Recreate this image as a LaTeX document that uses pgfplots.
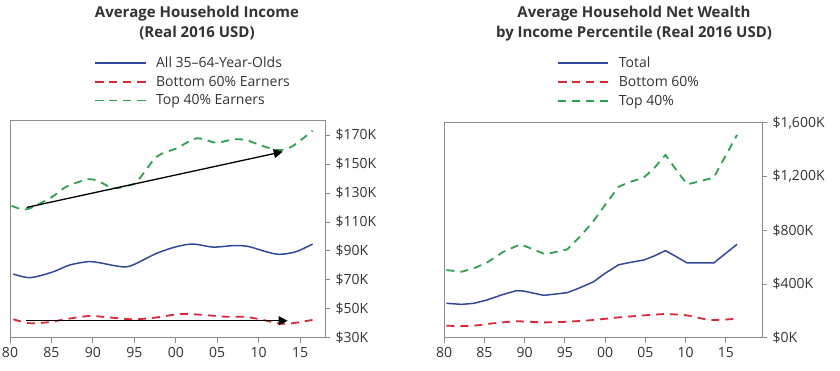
\documentclass[border=0pt]{standalone}
\usepackage{fontspec}
\setmainfont{Open Sans}
\usepackage{pgfplots}
\pgfplotsset{compat=1.18}
\usetikzlibrary{arrows.meta}
\definecolor{cblue}{HTML}{34489A}
\definecolor{cred}{HTML}{D8283A}
\definecolor{cgreen}{HTML}{2EA04F}
\definecolor{cgray}{HTML}{8C8C8C}
\definecolor{ctext}{HTML}{333333}
\pgfplotsset{
  common/.style={
    scale only axis, anchor=south west,
    axis line style={cgray, line width=0.8pt},
    tick style={cgray, line width=0.8pt},
    major tick length=5pt, tick align=outside,
    xtick pos=bottom, ytick pos=right, yticklabel pos=right,
    xtick={1980,1985,...,2015},
    xticklabels={80,85,90,95,00,05,10,15},
    ticklabel style={font=\fontsize{14}{17}\selectfont, text=ctext},
    xticklabel style={yshift=-1pt},
    yticklabel style={xshift=2pt},
    legend cell align=left,
    legend style={draw=none, fill=none, inner sep=0pt, row sep=3pt, column sep=8pt,
       font=\fontsize{14}{16}\selectfont, text=ctext,
       anchor=north west},
    legend image code/.code={\draw[##1] plot coordinates {(0pt,0pt) (50pt,0pt)};},
    clip=false,
  },
  sblue/.style={cblue, line width=1.5pt},
  sred/.style={cred, line width=1.8pt, dash pattern=on 8pt off 6pt},
  sgreen/.style={cgreen, line width=1.8pt, dash pattern=on 8pt off 6pt},
}
\begin{document}
\begin{tikzpicture}
\useasboundingbox (0pt,0pt) rectangle (840pt,370pt);
\node[anchor=base, font=\bfseries\fontsize{15}{18}\selectfont, text=ctext] at (197pt,352.7pt) {Average Household Income};
\node[anchor=base, font=\bfseries\fontsize{15}{18}\selectfont, text=ctext] at (197pt,332.7pt) {(Real 2016 USD)};
\node[anchor=base, font=\bfseries\fontsize{15}{18}\selectfont, text=ctext] at (634pt,352.7pt) {Average Household Net Wealth};
\node[anchor=base, font=\bfseries\fontsize{15}{18}\selectfont, text=ctext] at (634pt,332.7pt) {by Income Percentile (Real 2016 USD)};

\begin{axis}[common, at={(10pt,32.3pt)}, width=315pt, height=217.7pt,
  xmin=1980, xmax=2018, ymin=30, ymax=180.4,
  ytick={30,50,...,170},
  yticklabels={\$30K,\$50K,\$70K,\$90K,\$110K,\$130K,\$150K,\$170K},
  legend style={at={(0.267,1.30)}},
]
\addplot[sblue, smooth, tension=0.5] coordinates {
(1980.4,74) (1982.4,71.5) (1985,75.1) (1987.2,80.2) (1989.4,82.5) (1990.8,81.8)
(1992.9,79.5) (1994.5,79.5) (1997.7,88.3) (2000.1,92.9) (2002.1,94.7) (2004.5,92.6)
(2006.9,93.6) (2008.7,93.1) (2010.9,89.4) (2012.5,87.6) (2014.5,89.4) (2016.5,94.7)};
\addlegendentry{All 35–64-Year-Olds}
\addplot[sred, smooth, tension=0.5] coordinates {
(1980.4,42.7) (1982.4,40) (1984.8,40.8) (1986.8,42.9) (1989.6,45) (1992,44)
(1994.9,42.7) (1997.7,44) (2000.5,46.4) (2002.9,45.9) (2006.1,44.5) (2008.5,44.3)
(2010.5,42.3) (2012.5,39.7) (2014.1,40) (2016.5,42.3)};
\addlegendentry{Bottom 60\% Earners}
\addplot[sgreen, smooth, tension=0.5] coordinates {
(1980.2,121.2) (1982,118.7) (1985,127) (1986.8,134.3) (1989.4,139.4) (1990.8,137.8)
(1992.4,133.2) (1994,134.8) (1995.3,137.8) (1997.7,155) (2000.1,160.8) (2002.5,167.7)
(2004.9,164.7) (2006.9,167) (2008.5,166.5) (2010.5,162.4) (2012.5,159.6) (2014.1,162.4)
(2016.5,173)};
\addlegendentry{Top 40\% Earners}
\draw[black, line width=1.3pt, -{Triangle[length=9pt,width=9pt]}] (axis cs:1982,120) -- (axis cs:2012.9,158.5);
\draw[black, line width=1.3pt, -{Triangle[length=9pt,width=9pt]}] (axis cs:1981.9,41.7) -- (axis cs:2013.5,41.7);
\end{axis}

\begin{axis}[common, at={(444pt,32.3pt)}, width=318pt, height=215pt,
  xmin=1980, xmax=2019.5, ymin=0, ymax=1600,
  ytick={0,400,800,1200,1600},
  yticklabels={\$0K,\$400K,\$800K,{\$1,200K},{\$1,600K}},
  legend style={at={(0.355,1.315)}},
]
\addplot[sblue] coordinates {
(1980.3,256) (1982.2,248) (1983.7,256) (1985.3,280) (1987.4,323) (1989.0,350)
(1989.9,347) (1992.4,315) (1995.3,335) (1996.9,372) (1998.6,417) (2000.0,479)
(2001.7,543) (2003.2,561) (2004.8,578) (2006.1,608) (2007.5,648) (2008.5,615)
(2010.2,556) (2013.5,556) (2016.4,695)};
\addlegendentry{Total}
\addplot[sred, smooth, tension=0.4] coordinates {
(1980.3,89) (1982.4,87) (1984.1,92) (1986.1,107) (1989.0,122) (1992.4,114)
(1995.3,119) (1998.6,132) (2001.7,151) (2004.8,166) (2007.5,176) (2010.2,166)
(2013.1,132) (2016.4,141)};
\addlegendentry{Bottom 60\%}
\addplot[sgreen] coordinates {
(1980.3,503) (1982.2,491) (1983.7,516) (1985.3,558) (1987.4,640) (1989.5,695)
(1991.1,657) (1992.6,620) (1994.0,640) (1995.3,657) (1996.9,752) (1998.6,871)
(2000.0,988) (2001.7,1124) (2003.2,1161) (2004.8,1191) (2006.1,1261) (2007.5,1360)
(2009.0,1236) (2010.2,1141) (2011.9,1166) (2013.5,1191) (2016.4,1509)};
\addlegendentry{Top 40\%}
\end{axis}
\end{tikzpicture}
\end{document}
